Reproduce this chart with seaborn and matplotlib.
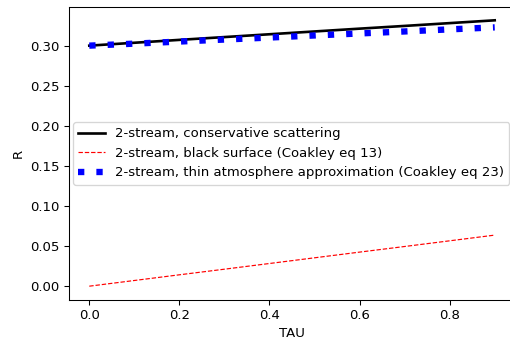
import matplotlib
matplotlib.use("Agg")
import matplotlib.pyplot as plt
import seaborn as sns
import pandas as pd

tau = [0.0, 0.1, 0.2, 0.3, 0.4, 0.5, 0.6, 0.7, 0.8, 0.9]
r_conservative = [0.3000, 0.3036, 0.3072, 0.3107, 0.3142, 0.3177, 0.3212, 0.3246, 0.3281, 0.3316]
r_black = [0.0000, 0.0071, 0.0142, 0.0212, 0.0283, 0.0354, 0.0425, 0.0495, 0.0566, 0.0637]
r_thin = [0.3000, 0.3025, 0.3051, 0.3076, 0.3101, 0.3127, 0.3152, 0.3177, 0.3203, 0.3228]

labels = ["2-stream, conservative scattering",
          "2-stream, black surface (Coakley eq 13)",
          "2-stream, thin atmosphere approximation (Coakley eq 23)"]

plt.rcParams['font.family'] = ['DejaVu Sans']
plt.rcParams['font.size'] = 10

DPI = 95
fig = plt.figure(figsize=(510/DPI, 341/DPI), dpi=DPI)
ax = fig.add_axes([69/510, 41.5/341, (515-69)/510, (299.5-7)/341])

df = pd.DataFrame({"TAU": tau, "a": r_conservative, "b": r_black, "c": r_thin})

sns.lineplot(data=df, x="TAU", y="a", ax=ax, color="black", linewidth=2.0, label=labels[0])
sns.lineplot(data=df, x="TAU", y="b", ax=ax, color="red", linewidth=0.9, linestyle="--", label=labels[1])
sns.lineplot(data=df, x="TAU", y="c", ax=ax, color="blue", linewidth=4.8,
             linestyle=(0, (1, 1.9)), label=labels[2])

ax.set_xlabel("TAU")
ax.set_ylabel("R")
ax.set_xticks([0.0, 0.2, 0.4, 0.6, 0.8])
ax.set_yticks([0.0, 0.05, 0.10, 0.15, 0.20, 0.25, 0.30])
ax.set_yticklabels(["0.00", "0.05", "0.10", "0.15", "0.20", "0.25", "0.30"])
ax.set_xlim(-0.045, 0.945)
ax.set_ylim(-0.0166, 0.3482)

ax.legend(loc="center left", borderaxespad=0.3)

fig.savefig("out.png", dpi=DPI)
